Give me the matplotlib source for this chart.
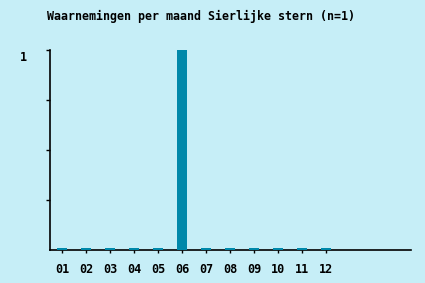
import matplotlib
matplotlib.use('Agg')
from matplotlib import pyplot as plt
import matplotlib.transforms as mtransforms
import numpy as np

months = ['01', '02', '03', '04', '05', '06', '07', '08', '09', '10', '11', '12']
counts = [0, 0, 0, 0, 0, 1, 0, 0, 0, 0, 0, 0]
title = 'Waarnemingen per maand Sierlijke stern (n=1)'

bg = '#c6eef7'
bar_color = '#0088aa'

fig = plt.figure(figsize=(4.25, 2.83), dpi=100, facecolor=bg)
ax = fig.add_axes([50 / 425, 1 - 250 / 283, 361 / 425, 200 / 283])
ax.set_facecolor(bg)

x = np.arange(len(months))
# zero months still get a thin stub like in the original
heights = [max(c, 0.012) for c in counts]
ax.bar(x, heights, width=0.38, color=bar_color, zorder=3)

ax.set_xlim(-0.5, 14.54)
ax.set_ylim(0, 1)
ax.set_xticks(x)
ax.set_xticklabels(months)
ax.set_yticks([0.25, 0.5, 0.75, 1])
ax.set_yticklabels(['', '', '', '1'])

font = {'family': 'DejaVu Sans Mono', 'weight': 'bold', 'size': 8.5}
for lbl in ax.get_xticklabels() + ax.get_yticklabels():
    lbl.set_fontproperties(font)
ax.tick_params(axis='x', length=2.5, width=1, pad=7, colors='black')
ax.tick_params(axis='y', length=3, width=1, pad=13.5, colors='black')

# the "1" sits a bit below its tick in the original
shift = mtransforms.ScaledTranslation(0, -6 / 100, fig.dpi_scale_trans)
for lbl in ax.get_yticklabels():
    lbl.set_transform(lbl.get_transform() + shift)

for s in ['top', 'right']:
    ax.spines[s].set_visible(False)
for s in ['left', 'bottom']:
    ax.spines[s].set_linewidth(1.2)
    ax.spines[s].set_color('black')

fig.text(47 / 425, 1 - 16 / 283, title, ha='left', va='center',
         family='DejaVu Sans Mono', weight='bold', fontsize=8.4)

fig.savefig('out.png', dpi=100, facecolor=bg)
